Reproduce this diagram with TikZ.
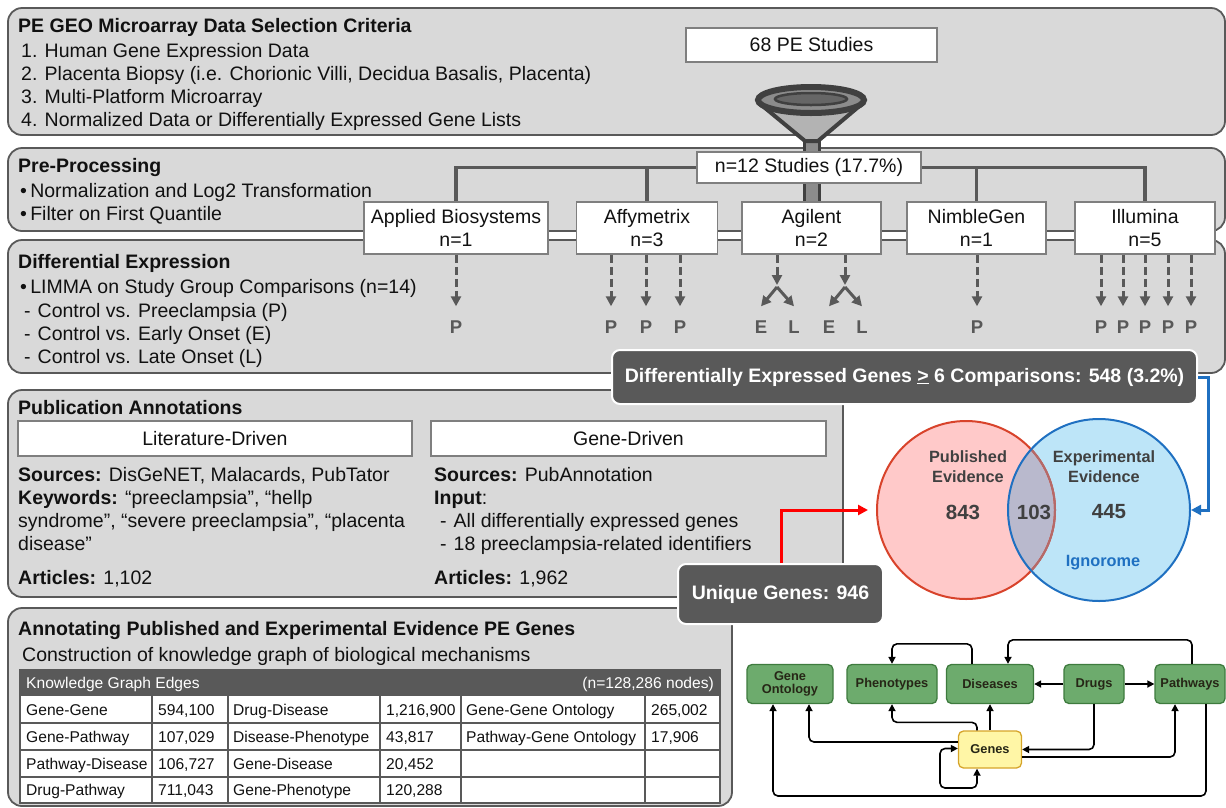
\documentclass[tikz,border=0pt]{standalone}
\usepackage{fontspec}
\setmainfont{Liberation Sans}
\usetikzlibrary{arrows.meta}
\definecolor{pfill}{HTML}{D9D9D9}
\definecolor{pline}{HTML}{595959}
\definecolor{dbox}{HTML}{595959}
\definecolor{bline}{HTML}{7F7F7F}
\definecolor{txtc}{HTML}{111111}
\definecolor{fdark}{HTML}{404040}
\definecolor{fmid}{HTML}{8C8C8C}
\definecolor{fcone}{HTML}{B3B3B3}
\definecolor{finner}{HTML}{666666}
\definecolor{redfill}{HTML}{FFC9C9}
\definecolor{redline}{HTML}{D8432B}
\definecolor{redmute}{HTML}{B46A6A}
\definecolor{bluefill}{HTML}{BDE5F8}
\definecolor{blueline}{HTML}{1F70C1}
\definecolor{ovfill}{HTML}{B9B9CD}
\definecolor{venntxt}{HTML}{404040}
\definecolor{arrred}{HTML}{FF0000}
\definecolor{gfill}{HTML}{6DAB6D}
\definecolor{gline}{HTML}{3E7B3E}
\definecolor{gtxt}{HTML}{262616}
\definecolor{yfill}{HTML}{FFF6A6}
\definecolor{yline}{HTML}{D6A42A}
\newcommand\myfs[2]{\fontsize{#1}{#2}\selectfont}
\begin{document}
\begin{tikzpicture}[x=1pt,y=-1pt,
  panel/.style={draw=pline, fill=pfill, line width=1.8pt, rounded corners=14pt},
  tx/.style={anchor=base west, inner sep=0pt, text=txtc, font=\myfs{19.5}{23}},
  tt/.style={tx, font=\myfs{19.5}{23}\bfseries},
  wbox/.style={draw=bline, fill=white, line width=1.5pt, inner sep=0pt, text=txtc, font=\myfs{19.5}{23}, align=center},
  tree/.style={draw=pline, line width=3.2pt},
  darr/.style={draw=pline, line width=3pt, dash pattern=on 8pt off 4pt, -{Triangle[length=10pt,width=10pt]}},
  sarr/.style={draw=pline, line width=3pt, -{Triangle[length=10pt,width=10pt]}},
  plab/.style={inner sep=0pt, text height=13pt, text depth=0pt, text=pline, font=\myfs{18.5}{20}\bfseries},
  dkbox/.style={fill=dbox, draw=white, line width=2pt, rounded corners=8pt, text=white, font=\myfs{19.5}{23}\bfseries, inner sep=0pt},
  vtx/.style={text=venntxt, font=\myfs{16.3}{20}\bfseries, align=center, inner sep=0pt},
  vnum/.style={text=venntxt, font=\myfs{20.5}{24}\bfseries, inner sep=0pt},
  conn/.style={line width=3pt, -{Triangle[length=10pt,width=10pt]}},
  tcell/.style={anchor=base west, inner sep=0pt, text=txtc, font=\myfs{15.6}{18}},
  gnode/.style={draw=gline, fill=gfill, line width=1.3pt, rounded corners=5pt, font=\myfs{12.8}{14}\bfseries, text=gtxt, align=center, inner sep=0pt},
  garr/.style={draw=black, line width=1.6pt, rounded corners=5pt, -{Triangle[length=7pt,width=7pt]}},
  gloop/.style={draw=black, line width=1.6pt, rounded corners=5pt, {Triangle[length=7pt,width=7pt]}-{Triangle[length=7pt,width=7pt]}}
]
\useasboundingbox (0,0) rectangle (1226,807);

% panels
\draw[panel] (8,8) rectangle (1225,135);
\draw[panel] (8,148) rectangle (1225,231);
\draw[panel] (8,240) rectangle (1225,373);
\draw[panel] (8,390) rectangle (843,597);
\draw[panel] (8,608) rectangle (732,806);

% panel 1
\node[tt] (t1) at (18,32) {PE GEO Microarray Data Selection Criteria};
\node[tx] (c1) at (21,57) {1. Human Gene Expression Data};
\node[tx] (c2) at (21,80) {2. Placenta Biopsy (i.e. Chorionic Villi, Decidua Basalis, Placenta)};
\node[tx] (c3) at (21,103) {3. Multi-Platform Microarray};
\node[tx] (c4) at (21,126) {4. Normalized Data or Differentially Expressed Gene Lists};
\node[wbox, minimum width=251, minimum height=34] (pe68) at (811.5,45) {68 PE Studies};

% panel 2
\node[tt] (t2) at (18,172) {Pre-Processing};
\node[tx] (b1) at (20,197) {•\,Normalization and Log2 Transformation};
\node[tx] (b2) at (20,220) {•\,Filter on First Quantile};

% funnel
\draw[draw=fdark, fill=fmid, line width=3pt] (804,120) rectangle (819,203);
\draw[draw=fdark, fill=fcone, line width=4pt, line join=round] (759,103) -- (805,141) -- (818,141) -- (863,103) -- cycle;
\draw[draw=fdark, fill=fmid, line width=6pt] (811,100) ellipse [x radius=53, y radius=13];
\draw[draw=fdark, fill=finner, line width=2.5pt] (811,99) ellipse [x radius=36, y radius=6];

\node[wbox, minimum width=224, minimum height=31] (n12) at (809,167.5) {n=12 Studies (17.7\%)};

% panel 3
\node[tt] (t3) at (18,268) {Differential Expression};
\node[tx] (d1) at (20,293) {•\,LIMMA on Study Group Comparisons (n=14)};
\node[tx] (d2) at (24,317) {-\hspace{7pt}Control vs. Preeclampsia (P)};
\node[tx] (d3) at (24,340) {-\hspace{7pt}Control vs. Early Onset (E)};
\node[tx] (d4) at (24,363) {-\hspace{7pt}Control vs. Late Onset (L)};

% platforms
\node[wbox, minimum width=184, minimum height=52] (ab) at (456,228) {Applied Biosystems\\n=1};
\node[wbox, minimum width=141, minimum height=52] (af) at (647,228) {Affymetrix\\n=3};
\node[wbox, minimum width=139, minimum height=52] (ag) at (811.5,228) {Agilent\\n=2};
\node[wbox, minimum width=139, minimum height=52] (ng) at (976.5,228) {NimbleGen\\n=1};
\node[wbox, minimum width=140, minimum height=52] (il) at (1145,228) {Illumina\\n=5};

\draw[tree] (n12.west) -| (ab.north);
\draw[tree] (n12.west -| af.north) -- (af.north);
\draw[tree] (n12.east) -| (il.north);
\draw[tree] (n12.east -| ng.north) -- (ng.north);

% comparison labels
\node[plab] (pab) at (456,327) {P};
\node[plab] (pa1) at (611,327) {P};
\node[plab] (pa2) at (646,327) {P};
\node[plab] (pa3) at (680,327) {P};
\node[plab] (e1) at (761,327) {E};
\node[plab] (l1) at (794,327) {L};
\node[plab] (e2) at (829,327) {E};
\node[plab] (l2) at (862,327) {L};
\node[plab] (png) at (977,327) {P};
\node[plab] (pi1) at (1101,327) {P};
\node[plab] (pi2) at (1123,327) {P};
\node[plab] (pi3) at (1145,327) {P};
\node[plab] (pi4) at (1168,327) {P};
\node[plab] (pi5) at (1191,327) {P};

\draw[darr] (pab |- ab.south) -- ([yshift=14pt]pab.north);
\draw[darr] (pa1 |- af.south) -- ([yshift=14pt]pa1.north);
\draw[darr] (pa2 |- af.south) -- ([yshift=14pt]pa2.north);
\draw[darr] (pa3 |- af.south) -- ([yshift=14pt]pa3.north);
\draw[darr] (png |- ng.south) -- ([yshift=14pt]png.north);
\draw[darr] (pi1 |- il.south) -- ([yshift=14pt]pi1.north);
\draw[darr] (pi2 |- il.south) -- ([yshift=14pt]pi2.north);
\draw[darr] (pi3 |- il.south) -- ([yshift=14pt]pi3.north);
\draw[darr] (pi4 |- il.south) -- ([yshift=14pt]pi4.north);
\draw[darr] (pi5 |- il.south) -- ([yshift=14pt]pi5.north);
\coordinate (fk1) at (777,287);
\coordinate (fk2) at (845,287);
\draw[darr] (fk1 |- ag.south) -- ([yshift=2pt]fk1);
\draw[darr] (fk2 |- ag.south) -- ([yshift=2pt]fk2);
\draw[sarr] (fk1) -- ([yshift=14pt]e1.north);
\draw[sarr] (fk1) -- ([yshift=14pt]l1.north);
\draw[sarr] (fk2) -- ([yshift=14pt]e2.north);
\draw[sarr] (fk2) -- ([yshift=14pt]l2.north);

% panel 4
\node[tt] (t4) at (18,414) {Publication Annotations};
\node[wbox, minimum width=394, minimum height=35] (lit) at (215,438.5) {Literature-Driven};
\node[wbox, minimum width=395, minimum height=35] (gd) at (628.5,438.5) {Gene-Driven};
\node[tx] (l1t) at (18,481) {\textbf{Sources:} DisGeNET, Malacards, PubTator};
\node[tx] (l2t) at (18,504) {\textbf{Keywords:} “preeclampsia”, “hellp};
\node[tx] (l3t) at (18,527) {syndrome”, “severe preeclampsia”, “placenta};
\node[tx] (l4t) at (18,550) {disease”};
\node[tx] (l5t) at (18,584) {\textbf{Articles:} 1,102};
\node[tx] (r1t) at (434,481) {\textbf{Sources:} PubAnnotation};
\node[tx] (r2t) at (434,504) {\textbf{Input}:};
\node[tx] (r3t) at (440,527) {-\hspace{7pt}All differentially expressed genes};
\node[tx] (r4t) at (440,550) {-\hspace{7pt}18 preeclampsia-related identifiers};
\node[tx] (r5t) at (434,584) {\textbf{Articles:} 1,962};

% panel 5
\node[tt] (t5) at (18,635) {Annotating Published and Experimental Evidence PE Genes};
\node[tx] (s5) at (22,661) {Construction of knowledge graph of biological mechanisms};
\fill[white] (20,696) rectangle (720,803);
\fill[dbox] (20,670) rectangle (720,696);
\foreach \yy in {723,750,777} \draw[pline, line width=1.2pt] (20,\yy) -- (720,\yy);
\foreach \xx in {152,228,380,461,645} \draw[pline, line width=1.2pt] (\xx,696) -- (\xx,803);
\draw[pline, line width=2pt] (20,670) rectangle (720,803);
\node[tcell, text=white] (th1) at (26,688.5) {Knowledge Graph Edges};
\node[tcell, text=white, anchor=base east] (th2) at (714,688.5) {(n=128,286 nodes)};
\node[tcell] (a1) at (26,715) {Gene-Gene};
\node[tcell] (a2) at (158,715) {594,100};
\node[tcell] (a3) at (233,715) {Drug-Disease};
\node[tcell] (a4) at (386,715) {1,216,900};
\node[tcell] (a5) at (466,715) {Gene-Gene Ontology};
\node[tcell] (a6) at (651,715) {265,002};
\node[tcell] (b1c) at (26,742) {Gene-Pathway};
\node[tcell] (b2c) at (158,742) {107,029};
\node[tcell] (b3c) at (233,742) {Disease-Phenotype};
\node[tcell] (b4c) at (386,742) {43,817};
\node[tcell] (b5c) at (466,742) {Pathway-Gene Ontology};
\node[tcell] (b6c) at (651,742) {17,906};
\node[tcell] (c1c) at (26,769) {Pathway-Disease};
\node[tcell] (c2c) at (158,769) {106,727};
\node[tcell] (c3c) at (233,769) {Gene-Disease};
\node[tcell] (c4c) at (386,769) {20,452};
\node[tcell] (d1c) at (26,795.5) {Drug-Pathway};
\node[tcell] (d2c) at (158,795.5) {711,043};
\node[tcell] (d3c) at (233,795.5) {Gene-Phenotype};
\node[tcell] (d4c) at (386,795.5) {120,288};

% dark summary boxes
\node[dkbox, minimum width=585, minimum height=54] (deg) at (904.5,377) {Differentially Expressed Genes \underline{>} 6 Comparisons: 548 (3.2\%)};
\node[dkbox, minimum width=205, minimum height=60] (ug) at (780.5,594) {Unique Genes: 946};

% venn
\fill[redfill] (966,510) circle (89);
\fill[bluefill] (1099,510) circle (91);
\begin{scope}
\clip (966,510) circle (89);
\fill[ovfill] (1099,510) circle (91);
\end{scope}
\node[circle, draw=redline, line width=2pt, minimum size=178, inner sep=0pt] (rc) at (966,510) {};
\begin{scope}
\clip (1099,510) circle (90);
\draw[redmute, line width=2pt] (966,510) circle (89);
\end{scope}
\node[circle, draw=blueline, line width=2pt, minimum size=182, inner sep=0pt] (bc) at (1099,510) {};
\node[vtx] (pubev) at (968,467) {Published\\Evidence};
\node[vnum] (n843) at (963,512) {843};
\node[vnum] (n103) at (1034,512) {103};
\node[vtx] (expev) at (1104,467) {Experimental\\Evidence};
\node[vnum] (n445) at (1109,512) {445};
\node[vtx, text=blueline] (ign) at (1103,563) {Ignorome};

\coordinate (rk) at (781,510);
\draw[conn, draw=arrred] (ug.north -| rk) -- (rk) -- ([xshift=-8pt]rc.west);
\coordinate (bk) at (1208,440);
\draw[conn, draw=blueline] (deg.east) -| (bk) |- (bc.east);

% knowledge graph schema
\node[gnode, minimum width=86, minimum height=39] (gon) at (790,684) {Gene\\[-1pt]Ontology};
\node[gnode, minimum width=90, minimum height=39] (phe) at (892,684) {Phenotypes};
\node[gnode, minimum width=87, minimum height=39] (dis) at (990,684) {Diseases};
\node[gnode, minimum width=60, minimum height=39] (drg) at (1094,684) {Drugs};
\node[gnode, minimum width=70, minimum height=39] (pwy) at (1190,684) {Pathways};
\node[gnode, draw=yline, fill=yfill, minimum width=63, minimum height=37] (gen) at (990,749.5) {Genes};
\coordinate (gbot) at (1000,796);
\coordinate (sl) at (940,788);
\draw[garr] ([xshift=-18pt]dis.north) -- ++(0,-20) -| (phe.north);
\draw[garr] ([xshift=2pt]pwy.north) -- ++(0,-24) -| ([xshift=18pt]dis.north);
\draw[garr] (drg.west) -- (dis.east);
\draw[garr] (drg.east) -- (pwy.west);
\draw[garr] ([yshift=7.5pt]gen.west) -| ([xshift=19pt]gon.south);
\draw[garr] ([xshift=-13pt]gen.north) -- ++(0,-8) -| (phe.south);
\draw[garr] (gen.north) -- (dis.south);
\draw[garr] (drg.south) |- (gen.east);
\draw[garr] ([yshift=-7.5pt]gen.east) -| ([xshift=-15pt]pwy.south);
\draw[garr] ([xshift=16pt]pwy.south) -- ([xshift=16pt]pwy.south |- gbot) -| ([xshift=-17pt]gon.south);
\draw[gloop] ([yshift=1pt]gen.west) -| (sl) -| ([xshift=-13pt]gen.south);
\end{tikzpicture}
\end{document}
